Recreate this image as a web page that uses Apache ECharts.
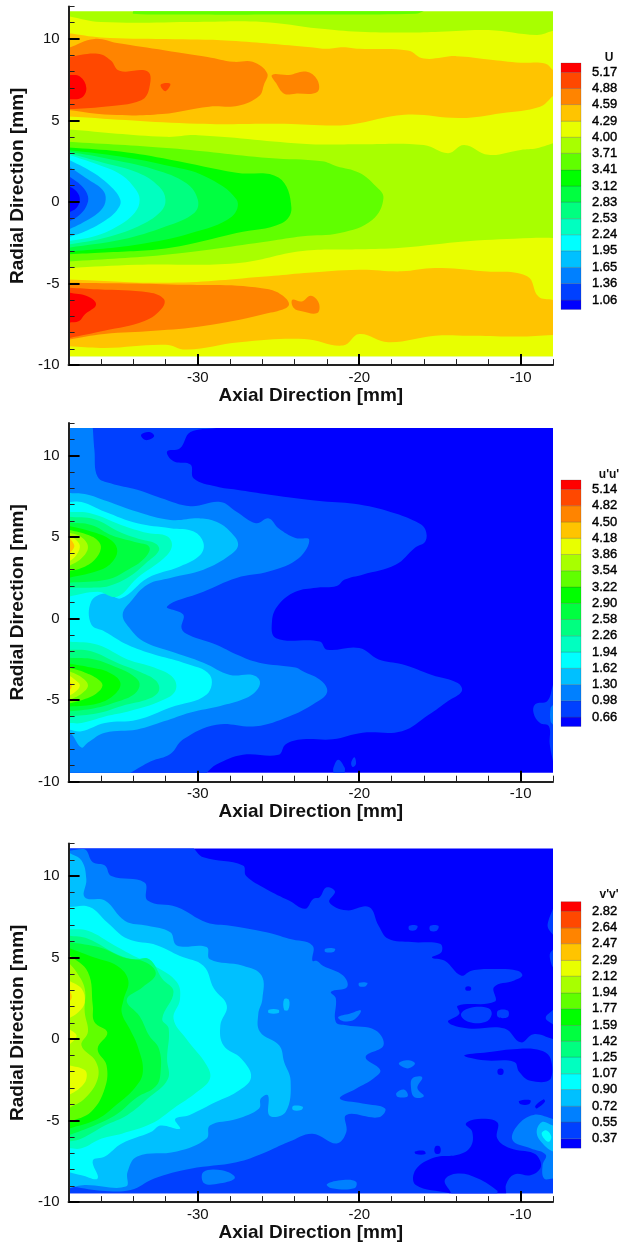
<!DOCTYPE html>
<html>
<head>
<meta charset="utf-8">
<title>Contours</title>
<style>
  html, body { margin: 0; background: #fff; }
  #chart { width: 625px; height: 1243px; }
  #chart canvas { filter: blur(0.5px); }
</style>
<script src="https://cdn.jsdelivr.net/npm/echarts@6/dist/echarts.min.js"></script>
</head>
<body>
<div id="chart"></div>
<script>
// band colours, lowest to highest (15 contour levels make 16 bands)
const bandColors = ['#0000ff', '#0040ff', '#0080ff', '#00c0ff', '#00ffff', '#00ffc0', '#00ff80', '#00ff40',
  '#00ff00', '#60ff00', '#a8ff00', '#e8ff00', '#ffc400', '#ff8400', '#ff4800', '#ff0000']

const meanLevels = [1.06, 1.36, 1.65, 1.95, 2.24, 2.53, 2.83, 3.12, 3.41, 3.71, 4.00, 4.29, 4.59, 4.88, 5.17]
const uuLevels = [0.66, 0.98, 1.30, 1.62, 1.94, 2.26, 2.58, 2.90, 3.22, 3.54, 3.86, 4.18, 4.50, 4.82, 5.14]
const vvLevels = [0.37, 0.55, 0.72, 0.90, 1.07, 1.25, 1.42, 1.59, 1.77, 1.94, 2.12, 2.29, 2.47, 2.64, 2.82]

const xMajorTicks = [-30, -20, -10]
const xMinorTicks = [-38, -36, -34, -32, -28, -26, -24, -22, -18, -16, -14, -12, -8]
const yMajorTicks = [-10, -5, 0, 5, 10]
const yMinorTicks = [-9, -8, -7, -6, -4, -3, -2, -1, 1, 2, 3, 4, 6, 7, 8, 9, 11, 12]

// measured field extent, mm
const fieldX = [-38, -8]
const fieldY = [-9.45, 11.7]

// contour outlines: [band, [x, y, x, y, ...]] in mm, painted in order
const meanContours = [
  [9, [-34,11.7, -16,11.7, -16.5,11.55, -24,11.5, -31,11.5, -34,11.55]],
  [11, [-38,11.4, -36,11.05, -30,11.05, -26,11.05, -22.5,10.65, -20,10.45, -17,10.4, -15,10.45, -12,10.55, -9,10.25, -8,10.5,
    -8,3.6, -9,3.3, -10,3.2, -12,2.9, -13.5,3.5, -14.5,3, -16,3.5, -20,3.55, -23,3.55, -30,4.1, -32,4, -38,4.45]],
  [12, [-38,10.35, -36,10.1, -32,10, -28,9.9, -23,9.5, -22,9.4, -21,9.5, -20,9.4, -17,9.3, -16,8.8, -14,8.95, -12,8.75, -10,8.55, -8.5,8.5, -8,8.1,
    -8,6.5, -8.8,5.85, -11.2,5.45, -13.7,5.15, -17.2,5.35, -20.5,4.75, -22,4.7, -25,4.8, -30,4.8, -38,5.25]],
  [13, [-38,9.45, -36.4,10, -35,9.75, -32,9.3, -29.4,8.9, -27.8,8.6, -26.6,8.6, -25.7,7.9, -25.9,7.2, -26.2,6.5,
    -27.5,5.9, -29.3,5.85, -32.2,5.4, -35.4,5.35, -38,5.65]],
  [13, [-25.4,7.8, -24.35,7.8, -23.3,8, -22.6,7.5, -22.6,6.75, -23.95,6.65, -24.65,6.65, -25.15,7.3]],
  [14, [-38,8.9, -36.2,9.1, -35.4,8.7, -34.85,8.05, -33.1,8, -33,7, -33.5,6.25, -35.8,5.85, -38,5.7]],
  [14, [-32.3,7.2, -31.7,7.25, -32,6.8]],
  [15, [-38,7.8, -37.3,7.7, -36.9,7, -37.2,6.4, -38,6.3]],
  [11, [-38,-4.05, -33.75,-3.85, -27.6,-3.75, -23.5,-3, -20,-2.9, -17.4,-2.8, -13.3,-2.4, -9.3,-2.2, -8,-2.2, -8,-9.45, -38,-9.45]],
  [12, [-38,-4.75, -31.7,-4.95, -25.6,-4.55, -23.4,-4.35, -20,-4.15, -17.4,-4.25, -15.3,-4.05, -12.3,-4.25, -9.6,-4.55, -8.9,-5.8, -8,-6,
    -8,-8.15, -10.2,-8.25, -13.2,-8.2, -15.3,-8.2, -18.2,-8.6, -20,-8.1, -21,-8.8, -23.4,-8.4, -27.4,-8.6, -30.7,-9.05, -32,-8.75, -35.8,-8.95, -38,-8.85]],
  [13, [-38,-4.95, -31.7,-5.05, -25.6,-5.35, -24.35,-6.3, -26,-6.9, -29.65,-7.6, -32.7,-7.9, -35.8,-8.1, -38,-8.45]],
  [13, [-24.15,-6, -23.55,-6.1, -23,-5.75, -22.5,-6.2, -22.6,-6.8, -23.55,-6.7, -24.05,-6.5]],
  [14, [-38,-5.25, -36.2,-5.35, -33,-5.55, -32.1,-5.95, -32.2,-6.5, -33.3,-7.3, -35.8,-7.9, -38,-8.35]],
  [15, [-38,-5.55, -36.8,-5.8, -36.3,-6.3, -37,-6.9, -37.35,-7.3, -38,-7.4]],
  [9, [-38,3.7, -31.7,3.3, -25.6,2.7, -22.3,2.5, -21.4,2.2, -20,1.8, -19,1, -18.5,0.25, -19.2,-1.1, -21.2,-1.9, -23.5,-2.1, -25.6,-2.4, -31.7,-3.2, -38,-3.65]],
  [8, [-38,3.35, -34.8,3.1, -31.7,2.6, -27.6,1.8, -25,1.5, -24.2,-0.35, -24.8,-1.3, -27.6,-1.9, -31.7,-2.8, -35.8,-3.1, -38,-3.2]],
  [7, [-38,3.2, -34.8,2.8, -31.7,2.2, -29.6,1.6, -27.6,0.15, -27.9,-0.9, -30.4,-1.9, -33.7,-2.6, -38,-3.05]],
  [6, [-38,3.1, -35.8,2.7, -32.7,2, -30.7,1.15, -30,0.15, -30.2,-0.65, -32,-1.5, -34.7,-2.3, -38,-2.8]],
  [5, [-38,3, -35.8,2.4, -33.7,1.8, -32.4,0.95, -32,0.15, -32.3,-0.6, -33.7,-1.5, -35.8,-2.2, -38,-2.6]],
  [4, [-38,2.9, -36.2,2.3, -34.8,1.7, -33.9,0.85, -33.6,0.15, -33.9,-0.65, -35,-1.5, -36.4,-2.1, -38,-2.4]],
  [3, [-38,2.6, -36.8,2, -35.6,1.15, -34.8,0.15, -35,-0.5, -36,-1.3, -37,-1.8, -38,-2.15]],
  [2, [-38,2.2, -36.8,1.4, -35.9,0.75, -35.7,0.15, -36,-0.5, -37,-1.2, -38,-1.7]],
  [1, [-38,1.6, -37.2,1, -36.8,0.35, -36.9,-0.25, -37.4,-0.85, -38,-1.2]],
  [0, [-38,1, -37.5,0.65, -37.3,0.15, -37.5,-0.35, -38,-0.65]]
]

const uuContours = [
  [1, [-38,11.7, -28.85,11.7, -30.45,11.45, -31.1,10.45, -31.9,10.25, -31.5,9.65, -30.45,9.45, -30.25,8.6, -28.85,8.1, -27.6,7.9, -25.55,7.6, -22.3,7.2,
    -20,7, -17.75,6.45, -16.3,5.85, -15.9,5.45, -15.9,4.75, -16.55,4.35, -17.75,3.3, -19.8,2.7, -20.9,2.4, -21.4,2, -22.65,1.9, -23.95,1.65, -25,0.85,
    -25.4,-0.15, -25.15,-1.2, -22.45,-1.4, -22,-1.9, -20,-1.8, -18.8,-2.5, -17.35,-2.8, -15.5,-3.45, -13.9,-3.95, -13.65,-4.45, -14.5,-5.05, -15.7,-5.9,
    -17.35,-6.9, -19.8,-7, -21.65,-7.4, -23.5,-7.4, -24.55,-7.7, -25,-8.35, -27.2,-8.35, -28.85,-8.95, -29.45,-9.45, -38,-9.45]],
  [0, [-33.5,11.3, -33,11.45, -32.7,11.2, -33.1,10.95, -33.4,11.05]],
  [1, [-21.6,-9.15, -21.3,-8.65, -20.9,-9.15, -20.9,-9.45, -21.6,-9.45]],
  [1, [-20.5,-8.85, -20.3,-8.5, -20.2,-8.9, -20.4,-9.1]],
  [1, [-8,-4.05, -8.35,-5.05, -9.1,-5.25, -9.2,-5.8, -8.8,-6.4, -8.25,-6.6, -8.2,-7.7, -8,-8.75]],
  [2, [-8.15,-5.5, -8,-5.3, -8,-6.5, -8.15,-6.3]],
  [2, [-38,11.7, -36.5,11.7, -36.4,10.35, -36.2,8.7, -35.4,8.3, -33.75,7.9, -32.3,7.4, -30.45,6.9, -28.6,7.15, -27.6,6.55, -26.4,5.85, -25.6,6.15, -25,5.55,
    -23.95,4.95, -23.1,4.85, -23.75,3.7, -25.55,2.9, -27.6,2.5, -29.65,1.65, -31.9,0.75, -30.9,0.25, -31,-0.6, -30.55,-1, -28.85,-1.6, -27.6,-2.2, -26.2,-2.7,
    -23.95,-3, -23.55,-3.2, -22.3,-3.85, -22,-4.55, -22.85,-5.25, -24.35,-6, -26.4,-6.6, -28.85,-6.5, -30.9,-7.4, -31.7,-8.3, -32.9,-8.75, -34.15,-9.45, -38,-9.45]],
  [3, [-38,7.7, -37,7.65, -35.6,7.2, -33.75,6.55, -31.7,6.05, -29.85,6.15, -28.85,5.95, -28,5.35, -27.5,4.55, -28,3.9, -29.65,3, -31.7,2.5, -33.1,2.1, -34.15,1.05,
    -34.65,0.25, -34.25,-0.55, -33.35,-1.4, -31.7,-2, -29.65,-2.7, -28,-3.45, -26.6,-3.45, -26.15,-3.85, -26.4,-4.45, -27.2,-4.95, -28.6,-5.35, -30.45,-5.75,
    -32.1,-6.3, -33.75,-6.8, -35.75,-7, -36.8,-7.6, -37.2,-7.9, -37.8,-7.1, -38,-7]],
  [4, [-38,7.15, -37.2,7.15, -35.75,6.55, -33.75,5.85, -31.7,5.55, -30.25,5.35, -29.65,4.65, -29.85,3.9, -31.1,3.2, -33.1,2.5, -34.75,1.25, -35.75,1.55, -36.6,1.05,
    -36.6,-0.35, -35.75,-0.8, -34.35,-1.6, -32.7,-2.2, -30.9,-2.7, -29.25,-3.45, -29.45,-4.65, -31.7,-5.45, -33.75,-6.2, -35.75,-6.4, -37.2,-6.9, -38,-6.8]],
  [5, [-38,6.55, -36.6,6.45, -34.75,5.75, -33.1,5.25, -31.9,5.05, -31.6,4.45, -32.1,3.7, -33.75,2.5, -35,1.35, -36.2,1.65, -38,1.35]],
  [5, [-38,-1.4, -36.2,-1.6, -34.35,-2.5, -32.7,-3, -31.5,-3.65, -31.4,-4.45, -32.3,-5.05, -34.15,-5.65, -35.75,-6, -37.2,-6.4, -38,-6.4]],
  [6, [-38,6.25, -36.4,6.1, -34.8,5.3, -33.5,4.85, -32.6,4.6, -32.4,4.2, -33.1,3.5, -34.2,2.6, -35.5,2, -36.6,1.9, -38,1.9]],
  [6, [-38,-1.9, -36.6,-2, -35,-2.7, -33.5,-3.3, -32.6,-3.8, -32.4,-4.4, -33,-4.9, -34.7,-5.35, -36.2,-5.8, -38,-6]],
  [7, [-38,5.9, -36.6,5.75, -35.3,5.1, -33.9,4.7, -33,4.4, -33.3,3.7, -34.4,2.95, -35.6,2.4, -38,2.2]],
  [7, [-38,-2.4, -36.4,-2.5, -35,-3, -34,-3.5, -33.6,-4, -33.9,-4.6, -35,-5.1, -36.4,-5.5, -38,-5.7]],
  [8, [-38,5.7, -36.8,5.4, -35.5,4.9, -35,4.3, -35.2,3.6, -36,3, -38,2.5]],
  [8, [-38,-2.75, -36.6,-3, -35.5,-3.3, -34.8,-3.9, -35.1,-4.6, -36.2,-5.2, -38,-5.4]],
  [9, [-38,5.45, -37,5.2, -36.2,4.8, -36,4.3, -36.4,3.6, -37.2,3.1, -38,2.9]],
  [9, [-38,-3, -37,-3.3, -36.2,-3.7, -35.9,-4.1, -36.3,-4.6, -37.2,-5, -38,-5.2]],
  [10, [-38,5.3, -37.2,5, -36.8,4.4, -37.2,3.7, -38,3.2]],
  [10, [-38,-3.2, -37.2,-3.6, -36.8,-4.1, -37.2,-4.6, -38,-5]],
  [11, [-38,5.15, -37.5,4.8, -37.3,4.4, -37.6,3.8, -38,3.5]],
  [11, [-38,-3.45, -37.6,-3.75, -37.3,-4.1, -37.6,-4.5, -38,-4.75]],
  [12, [-38,5, -37.75,4.7, -37.65,4.4, -38,3.95]],
  [12, [-38,-3.8, -37.8,-4.1, -38,-4.5]]
]

const vvContours = [
  [1, [-38,11.7, -30.25,11.7, -29.65,11.15, -27.2,10.65, -27,10, -25.75,9.2, -24.35,8.5, -23.35,8, -22.85,8.6, -22.45,8.7, -22.05,9.3, -21.5,9.05, -21.85,8.4,
    -20.8,7.9, -19.4,8.1, -18.8,6.95, -18.2,6.15, -16.75,5.95, -15,5.85, -14.9,5.35, -15.5,5, -14.7,4.8, -13.7,3.9, -13.05,4.2, -11.65,4.3, -10.2,4.2, -9.9,3.9,
    -10.4,3.6, -11.65,3.2, -11.6,2.3, -13.9,2.05, -13.8,1.55, -14.5,1.05, -13.25,0.65, -11,0.65, -10,-0.2, -9.2,0.3, -8,0, -8,-9.45, -38,-9.45]],
  // darker pockets on the right
  [0, [-13.5,-1, -12.05,-0.8, -10.2,-0.6, -8.75,-0.7, -8.15,-1.2, -8.15,-2.45, -9.4,-2.55, -10.1,-2, -10.4,-1.4, -12.25,-1.3]],
  [0, [-16.5,-8, -15.3,-7.25, -13.9,-7.1, -13.1,-6.6, -13,-5.7, -13.4,-5.2, -12.65,-4.9, -11.45,-5.1, -11.45,-6.1, -10.65,-6.7, -9.2,-7, -8.8,-7.45, -8.8,-7.95,
    -9.4,-8.35, -10.4,-8.3, -10.9,-8.9, -10.9,-9.45, -14.4,-9.45, -16.5,-8.95]],
  [0, [-11.4,-1.85, -11.1,-1.85, -11.1,-2.15, -11.4,-2.15]],
  [0, [-10.1,-3.8, -9.4,-3.75, -9.5,-4, -10,-4]],
  [0, [-9.1,-4.1, -8.6,-3.7, -8.5,-3.85, -9,-4.25]],
  [0, [-16.55,-6.9, -16,-6.85, -15.9,-7.05, -16.5,-7.05]],
  [0, [-15.3,-6.6, -15,-6.6, -15,-7, -15.3,-7]],
  [0, [-13.4,3.2, -13.1,3.2, -13.1,3, -13.4,3]],
  [0, [-23.85,5.2, -23.4,5.2, -23.45,4.85, -23.8,4.85]],
  [1, [-14.7,-8.65, -13.9,-8.25, -12.65,-8.55, -11.45,-9.3, -11.45,-9.45, -14.3,-9.45]],
  [1, [-13.7,1.5, -13.2,1.9, -12,1.9, -11.8,1.5, -12.2,1.05, -13.2,1.05]],
  [1, [-11.4,1.75, -10.8,1.75, -10.8,1.35, -11.4,1.35]],
  [1, [-8.45,1.3, -8,1.8, -8,0.9]],
  [1, [-16.9,6.95, -16.4,6.95, -16.5,6.7, -16.9,6.7]],
  [1, [-15.6,6.95, -15.1,6.95, -15.2,6.65, -15.6,6.65]],
  [1, [-8,8, -8.3,7.2, -8.3,6.8, -8,6.4]],
  [1, [-8,5.5, -8.2,5.2, -8.1,4.6, -8,4.4]],
  [2, [-38,11.55, -37,11.65, -36.5,10.85, -35.75,10.65, -35.35,10, -33.3,9.6, -33.1,8.5, -31.3,8.1, -29.45,7.15, -28,6.95, -25.75,6.55, -24.35,6.15, -22.9,5.75,
    -22.9,4.8, -22.65,4.8, -22.25,4.5, -21,3.9, -20.75,3.2, -21.75,2.9, -21.45,2.5, -21.45,1.05, -20.8,0.85, -19,0.55, -18.5,-0.4, -19.6,-1.1, -18.7,-1.9, -19.1,-2.4,
    -20.2,-3.05, -21.2,-3.65, -19.8,-3.95, -18.4,-4.25, -18.8,-4.8, -20.8,-4.65, -20.8,-5.7, -21.4,-6.4, -22.9,-5.8, -24.35,-6.3, -25.95,-7, -27.6,-7.55, -30.45,-7.95,
    -32.7,-8.55, -34.15,-9.25, -36,-9.3, -38,-9]],
  [2, [-21.3,1.35, -20.6,1.55, -19.9,1.75, -20.3,1.2, -21,1.1]],
  [2, [-17.55,-1.5, -17,-1.3, -16.55,-1.5, -17,-1.8]],
  [2, [-16.7,-2.4, -16.1,-2.35, -16.4,-3, -16,-3.5, -16.6,-3.55, -16.8,-2.9]],
  [2, [-17.7,-3.3, -17.2,-3.1, -17,-3.5, -17.6,-3.55]],
  [2, [-22,-8.9, -21,-8.65, -20.2,-8.75, -20.3,-9.15, -21.7,-9.15]],
  [2, [-22.1,5.55, -21.5,5.55, -21.6,5.35, -22.1,5.35]],
  [2, [-20,3.45, -19.5,3.45, -19.6,3.25, -20,3.25]],
  [2, [-10.2,-5.3, -9.2,-4.65, -8,-4.9, -8,-8.55, -8.55,-8.55, -8.65,-7.75, -8.45,-7.1, -9.4,-6.7, -10.5,-6.2]],
  [3, [-9,-5.8, -8.7,-5.1, -8,-5.3, -8,-6.9, -8.45,-6.6]],
  [4, [-8.7,-5.8, -8.4,-5.6, -8.1,-6, -8.3,-6.3]],
  [2, [-29.65,-8.15, -28.5,-8.05, -27.7,-8.5, -28.6,-8.85, -29.6,-8.85]],
  [3, [-38,11.45, -37.2,10.95, -36.9,9.8, -37,8.7, -35.75,8.5, -34.5,7.25, -33.1,6.95, -31.7,6.55, -31.3,5.75, -29.45,5.65, -29.25,4.9, -27.2,4.5, -26.05,3.9, -26,2.45,
    -26.25,1.55, -26.15,0.45, -24.95,-0.4, -24.65,-1.4, -24.25,-2.55, -24.55,-4.45, -25.55,-4.7, -25.65,-3.45, -26.1,-3.65, -26.2,-4.25, -27.6,-4.9, -29.25,-5.3,
    -29.45,-6.1, -31.3,-6.9, -33.75,-7.2, -34.35,-8.15, -34.45,-9.05, -37,-8.95, -38,-9.15]],
  [3, [-24.65,2.45, -24.35,2.4, -24.4,1.8, -24.65,1.8]],
  [3, [-25.6,1.8, -25,1.8, -25,1.6, -25.6,1.6]],
  [3, [-24.1,-4.1, -23.5,-4.15, -23.6,-4.35, -24.1,-4.35]],
  [4, [-38,8.1, -36.7,8.1, -35.6,7.15, -34.35,6.15, -32.5,5.75, -31.1,5.1, -29.65,4.5, -29,3.1, -28.2,2.05, -28.6,0.85, -28.4,-0.4, -27.3,-1.2, -26.7,-2.35, -27.6,-3.25,
    -28.85,-3.85, -30.5,-4.65, -31.4,-4.9, -31.1,-5.5, -32.3,-5.3, -32.9,-5.7, -34.7,-6.4, -35.75,-7.2, -36.5,-7.45, -36.2,-8.55, -37.2,-8.35, -38,-8.15]],
  [5, [-38,6.75, -36.8,6.65, -35.15,5.75, -33.75,5, -32.7,4.5, -31.3,3.5, -31.1,2.45, -31.5,1.25, -30.7,0, -29.45,-1.6, -29.25,-2.45, -30.05,-3.25, -31.5,-4.25,
    -32.9,-5.2, -34.7,-5.8, -35.95,-6.1, -37.2,-6.7, -38,-6.7]],
  [6, [-38,6.35, -36.8,6.15, -35,5.2, -34,4.9, -33,4.9, -32.2,3.7, -31.5,2.9, -32.2,1.25, -31.8,0.65, -31.9,-1.2, -31.85,-2.45, -33.1,-3.65, -34.35,-4.65, -35.75,-5.3,
    -37.2,-6.1, -38,-6.3]],
  [7, [-38,5.95, -36,5.6, -34.6,5, -33.2,4.7, -32.6,4, -33.4,3.2, -34.4,2.4, -33.6,1.4, -33,0.2, -32.4,-0.6, -32.3,-2, -32.6,-2.9, -33.8,-3.6, -35,-4.6, -36.4,-5.3, -38,-5.9]],
  [8, [-38,5.6, -36.4,5, -35,4.5, -34.3,3.6, -34.6,2.4, -34.7,1.6, -34.2,0.6, -33.7,-0.5, -33.4,-2, -33.9,-3, -35,-4, -36.2,-4.9, -38,-5.5]],
  [9, [-38,5.2, -36.8,4.1, -36.5,2.05, -36.4,1.05, -35.6,0.4, -36.2,-0.6, -35.65,-1.6, -35.75,-3, -36.6,-4.45, -38,-5.1]],
  [10, [-38,4.7, -37.5,4.1, -37,3.1, -37,1.65, -36.8,0.45, -37.2,-0.4, -36.3,-1.4, -36.2,-2.45, -37,-3.65, -38,-4.25]],
  [11, [-38,3.6, -37.2,3.1, -37,2.25, -37.4,1.65, -38,1.25]],
  [11, [-38,0.65, -37.5,0.2, -38,-0.4]],
  [11, [-38,-1.6, -37,-1.9, -36.9,-2.45, -37.3,-3, -38,-3.45]],
  [12, [-38,3.1, -37.8,2.6, -38,2.2]]
]

const panels = [
  { title: 'U', baseBand: 10, contours: meanContours, levels: meanLevels, top: 6.4, legendTop: 63, titleTop: 47 },
  { title: "u'u'", baseBand: 0, contours: uuContours, levels: uuLevels, top: 423, legendTop: 480, titleTop: 464 },
  { title: "v'v'", baseBand: 0, contours: vvContours, levels: vvLevels, top: 843.5, legendTop: 901.7, titleTop: 884 }
]

const plotLeft = 64
const plotWidth = 489
const plotHeight = 358.7
const legendLeft = 561
const legendWidth = 20
const legendHeight = 246.5
const textFont = 'Liberation Sans'
const axisColor = '#222'

// points on the field border go in twice so the smoothing keeps those corners sharp
function toPoints(flat, api) {
  const points = []
  for (let i = 0; i < flat.length; i += 2) {
    const x = flat[i]
    const y = flat[i + 1]
    const p = api.coord([x, y])
    points.push(p)
    if (fieldX.includes(x) || fieldY.includes(y)) {
      points.push(p)
    }
  }
  return points
}

function buildOption() {
  const grid = []
  const xAxis = []
  const yAxis = []
  const series = []
  const title = []

  panels.forEach(panel => {
    const plotGrid = grid.length
    grid.push({ left: plotLeft, top: panel.top, width: plotWidth, height: plotHeight })

    // main axes carry the line, the long ticks and the labels, second axes the short ticks
    const xMain = xAxis.length
    xAxis.push({
      gridIndex: plotGrid, type: 'value', position: 'bottom', min: fieldX[0], max: fieldX[1], z: 5,
      splitLine: { show: false },
      axisLine: { onZero: false, lineStyle: { color: axisColor, width: 2 } },
      axisTick: { inside: true, length: 11, customValues: xMajorTicks, lineStyle: { color: '#000', width: 2 } },
      axisLabel: { customValues: xMajorTicks, margin: 5, fontSize: 15, color: '#111', fontFamily: textFont },
      name: 'Axial Direction [mm]', nameLocation: 'middle', nameGap: 19,
      nameTextStyle: { fontSize: 19, fontWeight: 'bold', color: '#111', fontFamily: textFont }
    })
    xAxis.push({
      gridIndex: plotGrid, type: 'value', position: 'bottom', min: fieldX[0], max: fieldX[1], z: 5,
      splitLine: { show: false }, axisLine: { show: false, onZero: false }, axisLabel: { show: false },
      axisTick: { inside: true, length: 6, customValues: xMinorTicks, lineStyle: { color: axisColor, width: 1 } }
    })
    const yMain = yAxis.length
    yAxis.push({
      gridIndex: plotGrid, type: 'value', position: 'left', min: -10, max: 12, z: 5,
      splitLine: { show: false },
      axisLine: { onZero: false, lineStyle: { color: axisColor, width: 2 } },
      axisTick: { inside: true, length: 11, customValues: yMajorTicks, lineStyle: { color: '#000', width: 2 } },
      axisLabel: { customValues: yMajorTicks, margin: 9, fontSize: 15, color: '#111', fontFamily: textFont },
      name: 'Radial Direction [mm]', nameLocation: 'middle', nameGap: 23, nameRotate: 90,
      nameTextStyle: { fontSize: 19, fontWeight: 'bold', color: '#111', fontFamily: textFont }
    })
    yAxis.push({
      gridIndex: plotGrid, type: 'value', position: 'left', min: -10, max: 12, z: 5,
      splitLine: { show: false }, axisLine: { show: false, onZero: false }, axisLabel: { show: false },
      axisTick: { inside: true, length: 6, customValues: yMinorTicks, lineStyle: { color: axisColor, width: 1 } }
    })

    const layers = [
      [panel.baseBand, [fieldX[0], fieldY[0], fieldX[1], fieldY[0], fieldX[1], fieldY[1], fieldX[0], fieldY[1]]]
    ].concat(panel.contours)

    series.push({
      type: 'custom',
      xAxisIndex: xMain,
      yAxisIndex: yMain,
      animation: false,
      silent: true,
      clip: true,
      data: layers.map(layer => [layer[1][0], layer[1][1], layer[0]]),
      renderItem: (params, api) => {
        const layer = layers[params.dataIndex]
        return {
          type: 'polygon',
          shape: {
            points: toPoints(layer[1], api),
            smooth: 0.4,
            smoothConstraint: [api.coord([fieldX[0], fieldY[1]]), api.coord([fieldX[1], fieldY[0]])]
          },
          style: { fill: bandColors[layer[0]] }
        }
      }
    })

    // colour bar: half bands at both ends, each label sits on a band edge
    const levels = panel.levels
    const step = (levels[14] - levels[0]) / 14
    const barMin = levels[0] - step * 0.58
    const barMax = levels[14] + step * 0.58
    const edges = [barMin].concat(levels, [barMax])
    const barGrid = grid.length
    grid.push({ left: legendLeft, top: panel.legendTop, width: legendWidth, height: legendHeight })
    const barX = xAxis.length
    xAxis.push({ gridIndex: barGrid, type: 'value', min: 0, max: 1, show: false })
    const barY = yAxis.length
    yAxis.push({
      gridIndex: barGrid, type: 'value', position: 'right', min: barMin, max: barMax,
      splitLine: { show: false }, axisLine: { show: false }, axisTick: { show: false },
      axisLabel: {
        customValues: levels, margin: 11, fontSize: 13, color: '#000', fontFamily: textFont,
        padding: [3, 0, 0, 0], textBorderColor: '#000', textBorderWidth: 0.4,
        formatter: v => v.toFixed(2)
      }
    })
    series.push({
      type: 'custom',
      xAxisIndex: barX,
      yAxisIndex: barY,
      animation: false,
      silent: true,
      data: bandColors.map((c, i) => [0, edges[i], edges[i + 1]]),
      renderItem: (params, api) => {
        const p0 = api.coord([0, api.value(2)])
        const p1 = api.coord([1, api.value(1)])
        return {
          type: 'rect',
          shape: { x: p0[0], y: p0[1], width: p1[0] - p0[0], height: p1[1] - p0[1] },
          style: { fill: bandColors[params.dataIndex], stroke: 'rgba(60,60,60,0.3)', lineWidth: 0.7 }
        }
      }
    })

    title.push({
      text: panel.title,
      left: 604,
      top: panel.titleTop,
      textAlign: 'center',
      textStyle: { fontSize: 12, fontWeight: 'bold', color: '#111', fontFamily: textFont }
    })
  })

  return { animation: false, backgroundColor: '#fff', title, grid, xAxis, yAxis, series }
}

const myChart = echarts.init(document.getElementById('chart'), null, { renderer: 'canvas' })
myChart.setOption(buildOption())
</script>
</body>
</html>
